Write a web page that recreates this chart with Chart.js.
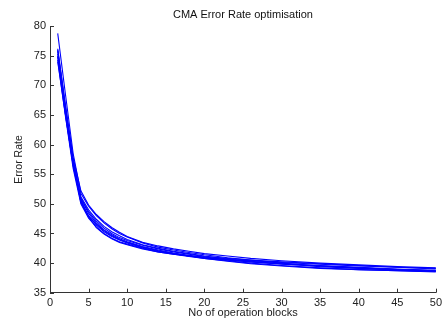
<!DOCTYPE html>
<html>
<head>
<meta charset="utf-8">
<script src="https://cdn.jsdelivr.net/npm/chart.js@4"></script>
<style>
html,body{margin:0;padding:0;background:#fff;}
#wrap{width:446px;height:320px;}
</style>
</head>
<body>
<div id="wrap"><canvas id="c" width="446" height="320"></canvas></div>
<script>
const titleText = "CMA Error Rate optimisation";
const xLabel = "No of operation blocks";
const yLabel = "Error Rate";
const xTicks = [0,5,10,15,20,25,30,35,40,45,50];
const yTicks = [35,40,45,50,55,60,65,70,75,80];

const blocks = [1,2,3,4,5,6,7,8,9,10,12,14,16,18,20,23,26,30,35,40,45,50];
const run1 = [78.8,68.5,58.5,51.8,49.6,48.0,46.8,45.8,45.0,44.4,43.4,42.7,42.2,41.8,41.4,40.9,40.5,40.0,39.5,39.2,38.9,38.7];
const run2 = [76.0,66.8,57.8,52.2,49.8,48.2,47.0,46.0,45.2,44.5,43.5,42.9,42.4,42.0,41.6,41.2,40.8,40.4,40.0,39.7,39.4,39.2];
const run3 = [75.8,66.0,57.2,51.2,49.0,47.4,46.2,45.3,44.6,44.0,43.1,42.5,42.0,41.6,41.2,40.7,40.3,39.9,39.4,39.1,38.8,38.6];
const run4 = [75.3,65.6,56.8,50.8,48.4,46.8,45.6,44.8,44.1,43.6,42.8,42.2,41.7,41.3,41.0,40.6,40.2,39.8,39.5,39.2,38.9,38.7];
const run5 = [74.8,65.2,56.4,50.4,48.0,46.4,45.3,44.5,43.9,43.4,42.6,42.0,41.6,41.2,40.9,40.5,40.2,39.9,39.6,39.3,39.0,38.8];
const run6 = [74.3,64.8,56.0,50.0,47.6,46.1,45.0,44.2,43.6,43.2,42.5,41.9,41.5,41.1,40.8,40.3,39.9,39.5,39.1,38.9,38.7,38.6];
const run7 = [74.0,65.0,56.6,50.6,47.8,46.0,44.9,44.1,43.5,43.1,42.4,41.9,41.5,41.2,40.9,40.6,40.4,40.1,39.8,39.5,39.3,39.1];
const run8 = [75.0,65.8,57.0,50.2,47.9,46.6,45.5,44.6,44.0,43.5,42.7,42.1,41.6,41.2,40.8,40.4,40.0,39.6,39.2,38.9,38.7,38.5];
const run9 = [76.2,66.4,57.4,51.0,48.7,47.1,45.9,45.0,44.3,43.8,43.0,42.4,41.9,41.5,41.1,40.8,40.5,40.2,39.9,39.6,39.3,39.0];
const runs = [run1,run2,run3,run4,run5,run6,run7,run8,run9];

const FONT = "'Liberation Sans', Arial, Helvetica, sans-serif";

const datasets = runs.map((r,i) => ({
  label: 'run ' + (i+1),
  data: r.map((v,j) => ({x: blocks[j], y: v})),
  borderColor: '#0000ff',
  borderWidth: 1.1,
  pointRadius: 0,
  fill: false,
  tension: 0
}));

const bgPlugin = {
  id: 'bg',
  beforeDraw(chart) {
    const ctx = chart.ctx;
    ctx.save();
    ctx.fillStyle = '#fff';
    ctx.fillRect(0,0,chart.width,chart.height);
    ctx.restore();
  }
};

const inTicks = {
  id: 'inTicks',
  afterDraw(chart) {
    const ctx = chart.ctx;
    const xs = chart.scales.x, ys = chart.scales.y;
    const a = chart.chartArea;
    ctx.save();
    ctx.strokeStyle = '#333';
    ctx.lineWidth = 1;
    ctx.beginPath();
    xTicks.forEach(t => {
      const px = Math.round(xs.getPixelForValue(t)) + 0.5;
      ctx.moveTo(px, a.bottom);
      ctx.lineTo(px, a.bottom - 4);
    });
    yTicks.forEach(t => {
      const py = Math.round(ys.getPixelForValue(t)) + 0.5;
      ctx.moveTo(a.left, py);
      ctx.lineTo(a.left + 4, py);
    });
    ctx.stroke();
    ctx.restore();
  }
};

new Chart(document.getElementById('c'), {
  type: 'line',
  data: { datasets },
  plugins: [bgPlugin, inTicks],
  options: {
    responsive: false,
    animation: false,
    events: [],
    layout: { padding: 0 },
    plugins: {
      legend: { display: false },
      tooltip: { enabled: false },
      title: {
        display: true,
        fullSize: false,
        text: titleText,
        color: '#111',
        font: { family: FONT, size: 11, weight: 'normal' },
        padding: { top: 8, bottom: 5 }
      }
    },
    scales: {
      x: {
        type: 'linear',
        min: 0, max: 50,
        afterBuildTicks(s) { s.ticks = xTicks.map(v => ({value: v})); },
        afterFit(s) { s.height = 27.3; },
        grid: { display: true, drawOnChartArea: false, drawTicks: false },
        border: { display: true, color: '#333', width: 1 },
        ticks: { color: '#222', padding: 4, maxRotation: 0, autoSkip: false,
                 font: { family: FONT, size: 11 } },
        title: { display: true, text: xLabel, color: '#222', padding: {top:0, bottom:0},
                 font: { family: FONT, size: 11 } }
      },
      y: {
        type: 'linear',
        min: 35, max: 80,
        afterBuildTicks(s) { s.ticks = yTicks.map(v => ({value: v})); },
        afterFit(s) { s.width = 50; },
        grid: { display: true, drawOnChartArea: false, drawTicks: false },
        border: { display: true, color: '#333', width: 1 },
        ticks: { color: '#222', padding: 4, autoSkip: false,
                 font: { family: FONT, size: 11 } },
        title: { display: true, text: yLabel, color: '#222', padding: {top:13, bottom:13},
                 font: { family: FONT, size: 10.5 } }
      }
    }
  }
});
</script>
</body>
</html>
